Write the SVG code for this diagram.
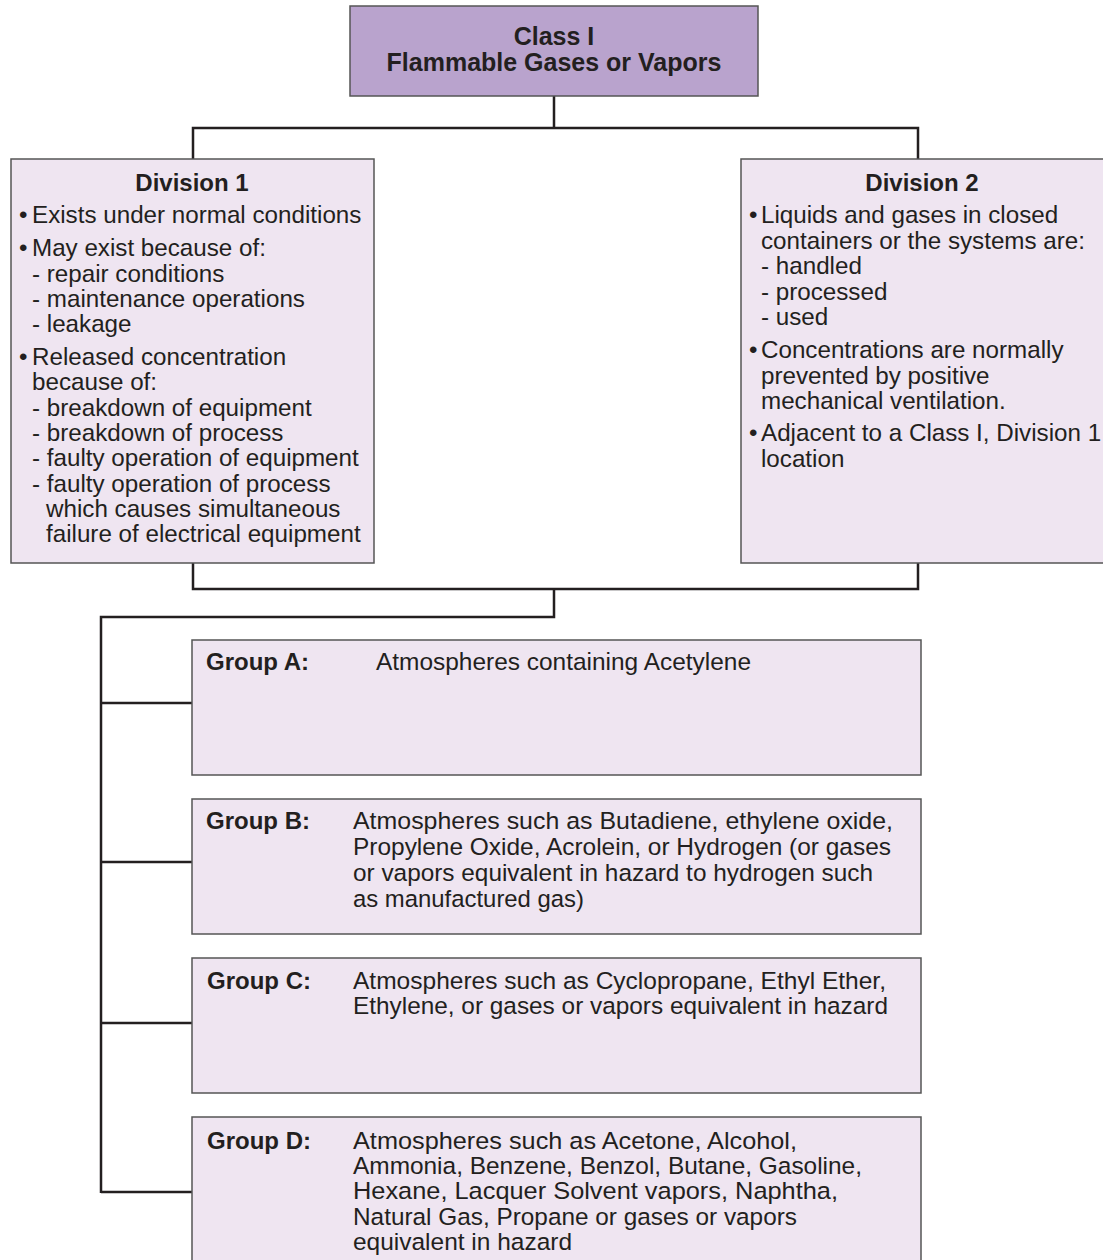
<svg xmlns="http://www.w3.org/2000/svg" width="1103" height="1260" viewBox="0 0 1103 1260">
<style>
.box{fill:#efe5f1;stroke:#555;stroke-width:1.5}
.title{fill:#b9a3cd;stroke:#555;stroke-width:1.5}
.conn{fill:none;stroke:#231f20;stroke-width:2.5}
text{font-family:"Liberation Sans",Arial,sans-serif;fill:#231f20;font-size:24.2px}
.b{font-weight:bold;font-size:24px}
.t{font-size:25px;font-weight:bold}
.n{font-size:24.5px}
</style>
<rect width="1103" height="1260" fill="#fff"/>
<g id="connectors">
<path class="conn" d="M554,96V128M193,159V128H918V159"/>
<path class="conn" d="M193,563V589H918V563M554,589V617H101V1193M101,703H192M101,862H192M101,1023H192M101,1192H192"/>
</g>
<g id="class1">
<rect class="title" x="350" y="6" width="408" height="90"/>
<text class="t" x="554" y="45" text-anchor="middle">Class I</text>
<text class="t" x="554" y="71" text-anchor="middle">Flammable Gases or Vapors</text>
</g>
<g id="division1">
<rect class="box" x="11" y="159" width="363" height="404"/>
<text class="b" x="192" y="191" text-anchor="middle">Division 1</text>
<text x="19" y="223">•</text><text x="32" y="223">Exists under normal conditions</text>
<text x="19" y="256">•</text><text x="32" y="256">May exist because of:</text>
<text x="32" y="281.5">- repair conditions</text>
<text x="32" y="307">- maintenance operations</text>
<text x="32" y="332">- leakage</text>
<text x="19" y="365">•</text><text x="32" y="365">Released concentration</text>
<text x="32" y="390">because of:</text>
<text x="32" y="415.5">- breakdown of equipment</text>
<text x="32" y="441">- breakdown of process</text>
<text x="32" y="466">- faulty operation of equipment</text>
<text x="32" y="491.5">- faulty operation of process</text>
<text x="46" y="517">which causes simultaneous</text>
<text x="46" y="542">failure of electrical equipment</text>
</g>
<g id="division2">
<rect class="box" x="741" y="159" width="370" height="404"/>
<text class="b" x="922" y="191" text-anchor="middle">Division 2</text>
<text x="749" y="223">•</text><text x="761" y="223">Liquids and gases in closed</text>
<text x="761" y="248.5">containers or the systems are:</text>
<text x="761" y="274">- handled</text>
<text x="761" y="299.5">- processed</text>
<text x="761" y="325">- used</text>
<text x="749" y="358">•</text><text x="761" y="358">Concentrations are normally</text>
<text x="761" y="383.5">prevented by positive</text>
<text x="761" y="409">mechanical ventilation.</text>
<text x="749" y="441">•</text><text x="761" y="441">Adjacent to a Class I, Division 1</text>
<text x="761" y="466.5">location</text>
</g>
<g id="groupA">
<rect class="box" x="192" y="640" width="729" height="135"/>
<text class="b" x="206" y="670">Group A:</text>
<text x="376" y="670" textLength="375" lengthAdjust="spacingAndGlyphs">Atmospheres containing Acetylene</text>
</g>
<g id="groupB">
<rect class="box" x="192" y="799" width="729" height="135"/>
<text class="b" x="206" y="829">Group B:</text>
<text class="n" x="353" y="829" textLength="540" lengthAdjust="spacingAndGlyphs">Atmospheres such as Butadiene, ethylene oxide,</text>
<text class="n" x="353" y="855" textLength="538" lengthAdjust="spacingAndGlyphs">Propylene Oxide, Acrolein, or Hydrogen (or gases</text>
<text class="n" x="353" y="881" textLength="520" lengthAdjust="spacingAndGlyphs">or vapors equivalent in hazard to hydrogen such</text>
<text class="n" x="353" y="907" textLength="231" lengthAdjust="spacingAndGlyphs">as manufactured gas)</text>
</g>
<g id="groupC">
<rect class="box" x="192" y="958" width="729" height="135"/>
<text class="b" x="207" y="989">Group C:</text>
<text class="n" x="353" y="989" textLength="533" lengthAdjust="spacingAndGlyphs">Atmospheres such as Cyclopropane, Ethyl Ether,</text>
<text class="n" x="353" y="1014" textLength="535" lengthAdjust="spacingAndGlyphs">Ethylene, or gases or vapors equivalent in hazard</text>
</g>
<g id="groupD">
<rect class="box" x="192" y="1117" width="729" height="160"/>
<text class="b" x="207" y="1149">Group D:</text>
<text class="n" x="353" y="1149" textLength="444" lengthAdjust="spacingAndGlyphs">Atmospheres such as Acetone, Alcohol,</text>
<text class="n" x="353" y="1174" textLength="509" lengthAdjust="spacingAndGlyphs">Ammonia, Benzene, Benzol, Butane, Gasoline,</text>
<text class="n" x="353" y="1199" textLength="485" lengthAdjust="spacingAndGlyphs">Hexane, Lacquer Solvent vapors, Naphtha,</text>
<text class="n" x="353" y="1225" textLength="444" lengthAdjust="spacingAndGlyphs">Natural Gas, Propane or gases or vapors</text>
<text class="n" x="353" y="1250" textLength="219" lengthAdjust="spacingAndGlyphs">equivalent in hazard</text>
</g>
</svg>
